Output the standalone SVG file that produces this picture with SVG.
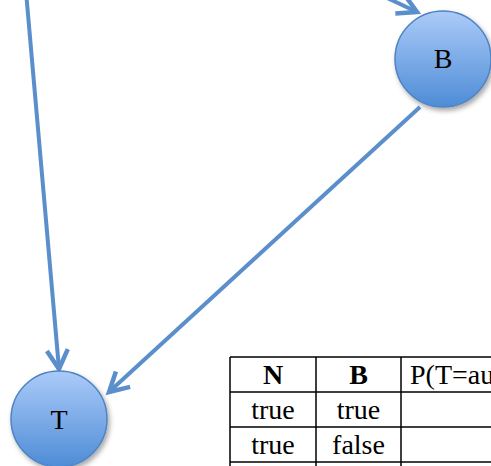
<svg xmlns="http://www.w3.org/2000/svg" width="491" height="466" viewBox="0 0 491 466">
  <defs>
    <linearGradient id="nodeFill" x1="0" y1="0" x2="0" y2="1">
      <stop offset="0" stop-color="#abcbf9"/>
      <stop offset="1" stop-color="#4e8cd6"/>
    </linearGradient>
    <filter id="shadow" x="-30%" y="-30%" width="160%" height="160%">
      <feDropShadow dx="2" dy="3" stdDeviation="2.5" flood-color="#000" flood-opacity="0.35"/>
    </filter>
    <marker id="openArrow" markerUnits="userSpaceOnUse" markerWidth="30" markerHeight="30" viewBox="-24 -15 30 30" refX="0" refY="0" orient="auto">
      <path d="M -19 -10.5 L 0 0 L -19 10.5" fill="none" stroke="#5b8fcc" stroke-width="4.5" stroke-linejoin="miter" stroke-linecap="butt"/>
    </marker>
    <style>
      .edge { fill: none; stroke: #5b8fcc; stroke-width: 4; marker-end: url(#openArrow); }
      .node circle { fill: url(#nodeFill); stroke: #4f83c2; stroke-width: 1.5; filter: url(#shadow); }
      .label { font-family: "Liberation Serif", "Times New Roman", serif; font-size: 28px; fill: #000; text-anchor: middle; }
      .cell { font-family: "Liberation Serif", "Times New Roman", serif; font-size: 28px; fill: #000; text-anchor: middle; }
      .head { font-weight: bold; }
      .start { text-anchor: start; }
      .grid { stroke: #000; stroke-width: 1.5; fill: none; }
    </style>
  </defs>

  <g id="connectors">
    <line class="edge" x1="25" y1="-20" x2="59" y2="369"/>
    <line class="edge" x1="349" y1="-20" x2="417" y2="12"/>
    <line class="edge" x1="420" y1="107" x2="109" y2="392"/>
  </g>

  <g id="node-B" class="node">
    <circle cx="443" cy="59" r="48"/>
    <text class="label" x="443" y="68">B</text>
  </g>

  <g id="node-T" class="node">
    <circle cx="59" cy="419" r="48"/>
    <text class="label" x="59" y="429">T</text>
  </g>

  <g id="cpt-table">
    <path class="grid" d="M 230 357 H 495 M 230 392 H 495 M 230 427 H 495 M 230 462 H 495 M 230 357 V 470 M 316 357 V 470 M 401 357 V 470"/>
    <text class="cell head" x="273" y="384">N</text>
    <text class="cell head" x="358.5" y="384">B</text>
    <text class="cell start" x="410" y="384">P(T=au</text>
    <text class="cell" x="273" y="419">true</text>
    <text class="cell" x="358.5" y="419">true</text>
    <text class="cell" x="273" y="454">true</text>
    <text class="cell" x="358.5" y="454">false</text>
  </g>
</svg>
